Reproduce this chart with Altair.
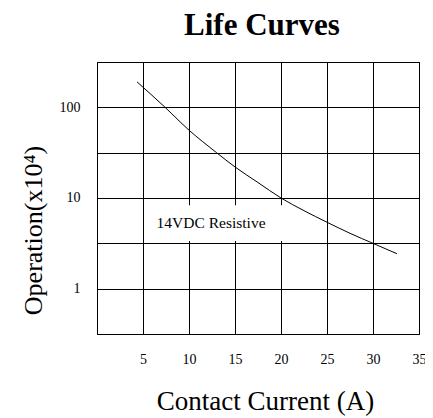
import altair as alt
import pandas as pd

# Curve data
current = [4.35, 7.4, 10, 13, 15, 17.5, 20, 22.5, 25, 27.5, 30, 32.6]
operations = [191, 100, 56, 31.6, 22, 14.8, 10, 7.25, 5.4, 4.08, 3.16, 2.43]

x_grid = [0, 5, 10, 15, 20, 25, 30, 35]
y_grid = [0.3162, 1, 3.162, 10, 31.62, 100, 316.2]

label_text = ["14VDC Resistive"]
label_x = [12.4]
label_y = [5.3]

box_x1 = [5.6]
box_x2 = [20.4]
box_y1 = [3.35]
box_y2 = [8.3]

FONT = "Liberation Serif"

curve_df = pd.DataFrame({"current": current, "ops": operations})
label_df = pd.DataFrame({"t": label_text, "x": label_x, "y": label_y})
box_df = pd.DataFrame({"x1": box_x1, "x2": box_x2, "y1": box_y1, "y2": box_y2})

xscale = alt.Scale(domain=[0, 35], nice=False, zero=False)
yscale = alt.Scale(type="log", domain=[0.3162, 316.2], nice=False)

xaxis = alt.Axis(
    values=x_grid,
    title="Contact Current (A)",
    grid=True,
    gridColor="black",
    gridOpacity=1,
    gridWidth=1,
    ticks=False,
    domain=False,
    labelExpr="datum.value == 0 ? '' : datum.label",
    labelFont=FONT,
    labelFontSize=14,
    labelColor="black",
    labelPadding=18,
    labelFlush=False,
    titleFont=FONT,
    titleFontSize=27,
    titleFontWeight="normal",
    titleColor="black",
    titleX=168,
    titleY=75,
    titleBaseline="alphabetic",
    titleAlign="center",
)

yaxis = alt.Axis(
    values=y_grid,
    title="Operation(x10⁴)",
    grid=True,
    gridColor="black",
    gridOpacity=1,
    gridWidth=1,
    ticks=False,
    domain=False,
    labelExpr="abs(log(datum.value)/log(10) - round(log(datum.value)/log(10))) < 0.01 ? format(datum.value, 'd') : ''",
    labelFont=FONT,
    labelFontSize=14,
    labelColor="black",
    labelPadding=17,
    labelFlush=False,
    titleFont=FONT,
    titleFontSize=26,
    titleFontWeight="normal",
    titleColor="black",
    titleX=-64,
    titleY=168,
    titleBaseline="middle",
    titleAlign="center",
)

base_x = alt.X("current:Q", scale=xscale, axis=xaxis)
base_y = alt.Y("ops:Q", scale=yscale, axis=yaxis)

curve = alt.Chart(curve_df).mark_line(
    color="black", strokeWidth=1, interpolate="monotone"
).encode(x=base_x, y=base_y)

box = alt.Chart(box_df).mark_rect(color="white", opacity=1).encode(
    x=alt.X("x1:Q", scale=xscale),
    x2="x2:Q",
    y=alt.Y("y1:Q", scale=yscale),
    y2="y2:Q",
)

label = alt.Chart(label_df).mark_text(
    font=FONT, fontSize=15.5, color="black", align="center", baseline="middle"
).encode(
    x=alt.X("x:Q", scale=xscale),
    y=alt.Y("y:Q", scale=yscale),
    text="t:N",
)

chart = alt.layer(box, label, curve).properties(
    width=322,
    height=272,
    background="white",
    title=alt.TitleParams(
        "Life Curves",
        font=FONT,
        fontSize=31,
        fontWeight="bold",
        color="black",
        anchor="middle",
        dx=4,
        offset=20,
    ),
    autosize=alt.AutoSizeParams(type="none"),
    padding={"left": 89, "top": 54, "right": 6, "bottom": 84},
).configure_view(
    stroke="black",
    strokeWidth=1,
)

chart.save("out.html", embed_options={"renderer": "svg", "actions": False})
